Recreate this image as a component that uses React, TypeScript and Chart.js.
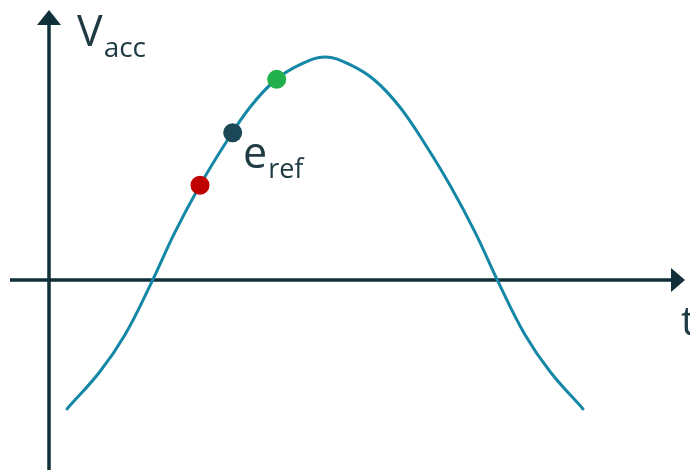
import React, { useEffect, useRef } from "react";
import { Chart, registerables } from "chart.js";

Chart.register(...registerables);

// Accelerating voltage over time (t in arbitrary units, V normalised to the crest)
const timeValues = [0.18, 0.51, 0.76, 1.01, 1.26, 1.51, 1.76, 2.01, 2.26, 2.51, 2.76, 3.01, 3.26, 3.51, 3.76, 4.01, 4.26, 4.51, 4.76, 5.01, 5.34];
const voltageValues = [-0.578, -0.41, -0.245, -0.025, 0.215, 0.425, 0.61, 0.775, 0.895, 0.966, 1.0, 0.966, 0.895, 0.775, 0.61, 0.425, 0.215, -0.025, -0.245, -0.41, -0.578];

// Phase markers on the rising edge
const markerTimes = [1.51, 1.837, 2.277];
const markerVoltages = [0.425, 0.661, 0.9];
const markerColors = ["#c00000", "#1b4756", "#22b04c"];

// Axis extents in data units
const tAxisRange = [-0.39, 6.36];
const vAxisRange = [-0.86, 1.211];
const viewT = [-0.49, 6.41];
const viewV = [-0.852, 1.256];

const curveColor = "#1487a6";
const axisColor = "#10303a";
const textColor = "#213b44";
const font = '"Open Sans", "Noto Sans", sans-serif';

const axesPlugin = {
  id: "arrowAxes",
  beforeDatasetsDraw(chart: any) {
    const { ctx, scales } = chart;
    const xs = scales.x;
    const ys = scales.y;
    const x0 = xs.getPixelForValue(0);
    const y0 = ys.getPixelForValue(0);
    const xl = xs.getPixelForValue(tAxisRange[0]);
    const xr = xs.getPixelForValue(tAxisRange[1]);
    const yb = ys.getPixelForValue(vAxisRange[0]);
    const yt = ys.getPixelForValue(vAxisRange[1]);
    ctx.save();
    ctx.strokeStyle = axisColor;
    ctx.fillStyle = axisColor;
    ctx.lineWidth = 3.5;
    ctx.beginPath();
    ctx.moveTo(xl, y0);
    ctx.lineTo(xr - 12, y0);
    ctx.moveTo(x0, yb + 10);
    ctx.lineTo(x0, yt + 12);
    ctx.stroke();
    // arrow heads
    ctx.beginPath();
    ctx.moveTo(xr, y0);
    ctx.lineTo(xr - 14, y0 - 12);
    ctx.lineTo(xr - 14, y0 + 12);
    ctx.closePath();
    ctx.fill();
    ctx.beginPath();
    ctx.moveTo(x0, yt);
    ctx.lineTo(x0 - 12, yt + 15);
    ctx.lineTo(x0 + 12, yt + 15);
    ctx.closePath();
    ctx.fill();
    ctx.restore();
  },
  afterDatasetsDraw(chart: any) {
    const { ctx, scales } = chart;
    const xs = scales.x;
    const ys = scales.y;
    const label = (main: string, sub: string, t: number, v: number, mainSize: number, subSize: number, subDrop: number) => {
      const px = xs.getPixelForValue(t);
      const py = ys.getPixelForValue(v);
      ctx.font = `${mainSize}px ${font}`;
      ctx.fillText(main, px, py);
      const w = ctx.measureText(main).width;
      if (sub) {
        ctx.font = `${subSize}px ${font}`;
        ctx.fillText(sub, px + w + 1, py + subDrop);
      }
    };
    ctx.save();
    ctx.fillStyle = textColor;
    ctx.textAlign = "left";
    ctx.textBaseline = "alphabetic";
    label("V", "acc", 0.28, 1.049, 43, 28, 11);
    label("e", "ref", 1.94, 0.503, 43, 27, 10);
    label("t", "", 6.32, -0.247, 40, 0, 0);
    ctx.restore();
  },
};

export default function App() {
  const canvasRef = useRef<HTMLCanvasElement | null>(null);

  useEffect(() => {
    const canvas = canvasRef.current;
    if (!canvas) return;
    const curve = timeValues.map((t, i) => ({ x: t, y: voltageValues[i] }));
    const markers = markerTimes.map((t, i) => ({ x: t, y: markerVoltages[i] }));
    const chart = new Chart(canvas, {
      type: "line",
      data: {
        datasets: [
          {
            label: "markers",
            type: "scatter",
            data: markers,
            pointRadius: 9.5,
            pointBackgroundColor: markerColors,
            pointBorderWidth: 0,
            clip: false,
            order: 0,
          } as any,
          {
            label: "Vacc",
            data: curve,
            borderColor: curveColor,
            borderWidth: 3,
            borderCapStyle: "round",
            pointRadius: 0,
            tension: 0.4,
            fill: false,
            clip: false,
            order: 1,
          },
        ],
      },
      options: {
        responsive: false,
        animation: false,
        devicePixelRatio: 1,
        layout: { padding: 0, autoPadding: false },
        plugins: {
          legend: { display: false },
          tooltip: { enabled: false },
          title: { display: false },
        },
        scales: {
          x: { type: "linear", min: viewT[0], max: viewT[1], display: false },
          y: { type: "linear", min: viewV[0], max: viewV[1], display: false },
        },
      },
      plugins: [axesPlugin],
    });
    return () => chart.destroy();
  }, []);

  return (
    <div style={{ position: "fixed", left: 0, top: 0, width: 690, height: 470, background: "#ffffff" }}>
      <canvas ref={canvasRef} width={690} height={470} />
    </div>
  );
}
